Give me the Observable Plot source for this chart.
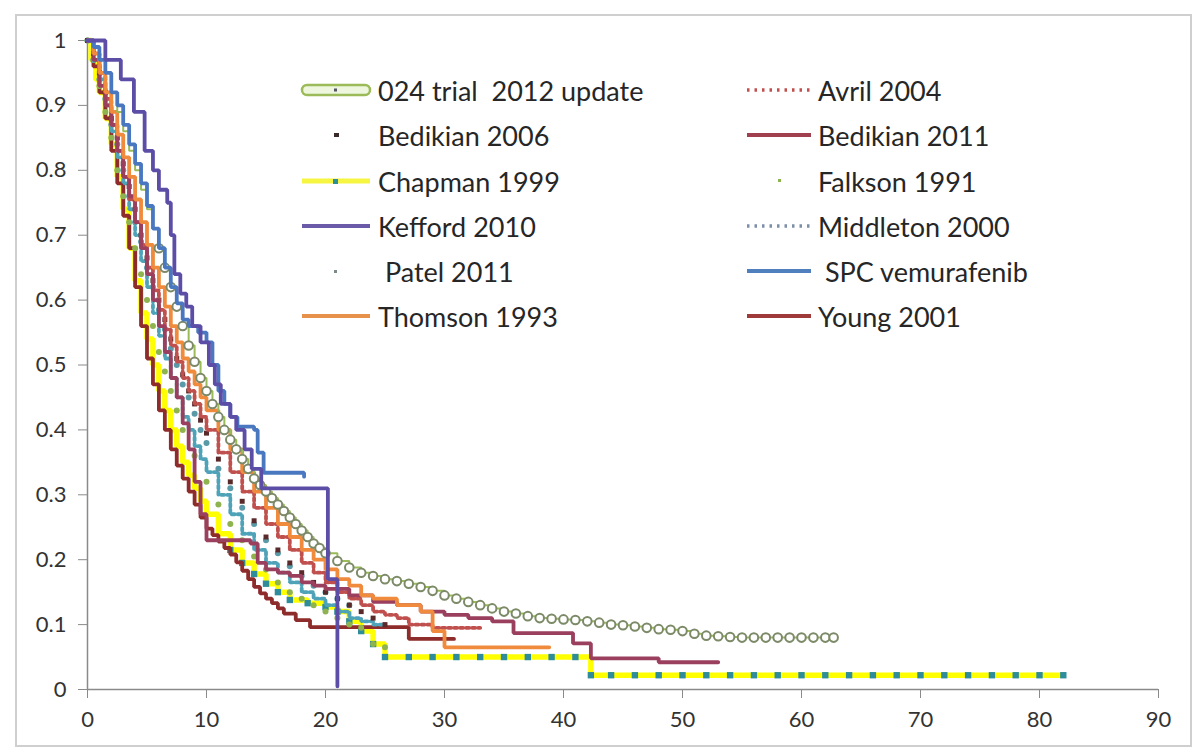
<!DOCTYPE html>
<html>
<head>
<meta charset="utf-8">
<script src="https://cdn.jsdelivr.net/npm/d3@7"></script>
<script src="https://cdn.jsdelivr.net/npm/@observablehq/plot@0.6"></script>
<style>
  html, body { margin: 0; padding: 0; background: #fff; }
  #wrap { position: relative; width: 1201px; height: 753px; overflow: hidden; font-family: Lato, "Open Sans", sans-serif; }
  #wrap > svg { position: absolute; left: 0; top: 0; }
  #frame { position: absolute; left: 15px; top: 14px; width: 1173px; height: 729px; border: 2px solid #cfcfcf; pointer-events: none; }
  .lg { position: absolute; display: flex; align-items: center; height: 34px; font-size: 27px; color: #262626; white-space: pre; }
  .lg svg { display: block; margin-right: 6px; }
</style>
</head>
<body>
<div id="wrap"><div id="frame"></div></div>
<script>
// ---- data (months, proportion surviving) ----
const seriesNames = ["024 trial  2012 update", "Avril 2004", "Bedikian 2006", "Bedikian 2011", "Chapman 1999", "Falkson 1991",
  "Kefford 2010", "Middleton 2000", " Patel 2011", " SPC vemurafenib", "Thomson 1993", "Young 2001"];

const trial024 = [[0,1],[0.5,0.99],[1,0.97],[1.5,0.95],[2,0.92],[2.5,0.89],[3,0.86],[3.5,0.83],[4,0.8],[4.5,0.77],[5,0.74],[5.5,0.71],[6,0.68],[6.5,0.65],[7,0.62],[7.5,0.59],[8,0.56],[8.5,0.53],[9,0.505],[9.5,0.48],[10,0.46],[10.5,0.44],[11,0.42],[11.5,0.4],[12,0.385],[12.5,0.37],[13,0.355],[13.5,0.34],[14,0.325],[14.5,0.315],[15,0.305],[15.5,0.295],[16,0.285],[16.5,0.275],[17,0.265],[17.5,0.255],[18,0.245],[18.5,0.235],[19,0.225],[19.5,0.218],[20,0.21],[21,0.198],[22,0.188],[23,0.18],[24,0.175],[25,0.17],[26,0.167],[27,0.163],[28,0.158],[29,0.152],[30,0.145],[31,0.14],[32,0.135],[33,0.13],[34,0.125],[35,0.12],[36,0.117],[37,0.113],[38,0.11],[39,0.109],[40,0.108],[41,0.107],[42,0.105],[43,0.103],[44,0.1],[45,0.099],[46,0.097],[47,0.095],[48,0.093],[49,0.092],[50,0.09],[51,0.086],[52,0.083],[53,0.082],[54,0.081],[55,0.08],[56,0.08],[57,0.08],[58,0.08],[59,0.08],[60,0.08],[61,0.08],[62,0.08],[62.7,0.08]];
const avril2004 = [[0,1],[0.5,0.98],[1,0.95],[1.5,0.91],[2,0.87],[2.5,0.83],[3,0.79],[3.5,0.755],[4,0.72],[4.5,0.685],[5,0.65],[5.5,0.615],[6,0.585],[6.5,0.555],[7,0.53],[7.5,0.505],[8,0.48],[8.5,0.46],[9,0.44],[9.5,0.42],[10,0.4],[11,0.365],[12,0.335],[13,0.305],[14,0.28],[15,0.255],[16,0.235],[17,0.215],[18,0.195],[19,0.18],[20,0.165],[21,0.15],[22,0.14],[23,0.13],[24,0.12],[25,0.115],[26,0.11],[27,0.1],[29,0.095],[33,0.095]];
const bedikian2006 = [[0,1],[0.5,0.98],[1,0.95],[1.5,0.92],[2,0.88],[2.5,0.85],[3,0.81],[3.5,0.775],[4,0.74],[4.5,0.7],[5,0.665],[5.5,0.63],[6,0.6],[6.5,0.57],[7,0.54],[7.5,0.51],[8,0.485],[8.5,0.46],[9,0.44],[9.5,0.415],[10,0.395],[11,0.355],[12,0.32],[13,0.29],[14,0.26],[15,0.235],[16,0.215],[17,0.195],[18,0.18],[19,0.165],[20,0.15],[21,0.14],[22,0.13],[23,0.12],[24,0.11],[25,0.1]];
const bedikian2011 = [[0,1],[0.5,0.97],[1,0.93],[1.5,0.9],[2,0.87],[2.5,0.83],[3,0.79],[3.5,0.76],[4,0.72],[4.5,0.68],[5,0.64],[5.5,0.6],[6,0.56],[6.5,0.52],[7,0.48],[7.5,0.45],[8,0.41],[8.5,0.37],[9,0.32],[9.5,0.27],[10,0.23],[13.7,0.225],[14.3,0.195],[15,0.185],[16,0.18],[17,0.175],[18,0.165],[19,0.16],[20,0.155],[22,0.145],[24,0.135],[26,0.13],[28,0.12],[30,0.115],[32,0.11],[34,0.105],[35.8,0.087],[40.8,0.071],[42.3,0.048],[48,0.042],[53,0.042]];
const chapman1999 = [[0,1],[0.3,0.97],[0.7,0.94],[1,0.92],[1.5,0.88],[2,0.84],[2.5,0.79],[3,0.74],[3.5,0.68],[4,0.63],[4.5,0.58],[5,0.54],[5.5,0.5],[6,0.46],[6.5,0.43],[7,0.4],[7.5,0.375],[8,0.35],[8.5,0.33],[9,0.31],[9.5,0.29],[10,0.27],[11,0.24],[12,0.215],[13,0.195],[14,0.178],[15,0.163],[16,0.15],[17,0.138],[18.5,0.133],[20,0.127],[21,0.12],[22,0.105],[23,0.09],[24,0.07],[25,0.05],[27,0.05],[29,0.05],[31,0.05],[33,0.05],[35,0.05],[37,0.05],[39,0.05],[41,0.05],[42.3,0.022],[44,0.022],[46,0.022],[48,0.022],[50,0.022],[52,0.022],[54,0.022],[56,0.022],[58,0.022],[60,0.022],[62,0.022],[64,0.022],[66,0.022],[68,0.022],[70,0.022],[72,0.022],[74,0.022],[76,0.022],[78,0.022],[80,0.022],[82,0.022]];
const falkson1991 = [[0,1],[0.5,0.97],[1,0.93],[1.5,0.89],[2,0.85],[2.5,0.8],[3,0.76],[3.5,0.72],[4,0.68],[4.5,0.64],[5,0.6],[5.5,0.56],[6,0.52],[6.5,0.49],[7,0.46],[7.5,0.43],[8,0.4],[9,0.36],[10,0.32],[11,0.285],[12,0.255],[13,0.23],[14,0.205],[15,0.185],[16,0.165],[17,0.15],[18,0.14],[19,0.13],[20,0.12],[21,0.11],[22,0.1],[23,0.095],[24,0.07],[25,0.065]];
const kefford2010 = [[0,1],[1.5,0.97],[2.8,0.94],[3.9,0.89],[4.8,0.83],[5.5,0.8],[6,0.77],[6.7,0.75],[7,0.7],[7.3,0.64],[7.8,0.61],[8.3,0.59],[8.8,0.56],[9.5,0.535],[10.2,0.5],[10.7,0.47],[11.2,0.44],[12,0.42],[12.5,0.4],[13.2,0.37],[13.8,0.34],[14.6,0.31],[20.2,0.17],[21,0.005]];
const middleton2000 = [[0,1],[0.5,0.97],[1,0.94],[1.5,0.9],[2,0.86],[2.5,0.82],[3,0.78],[3.5,0.74],[4,0.7],[4.5,0.66],[5,0.62],[5.5,0.58],[6,0.545],[6.5,0.51],[7,0.48],[7.5,0.45],[8,0.42],[8.5,0.4],[9,0.375],[9.5,0.355],[10,0.335],[11,0.3],[12,0.27],[13,0.24],[14,0.215],[15,0.195],[16,0.18],[17,0.165],[18,0.15],[19,0.14],[20,0.13],[21,0.12],[22,0.11],[23,0.105],[24,0.1],[25,0.1]];
const patel2011 = [[0,1],[0.5,0.97],[1,0.94],[1.5,0.91],[2,0.87],[2.5,0.84],[3,0.8],[3.5,0.76],[4,0.72],[4.5,0.69],[5,0.65],[5.5,0.62],[6,0.585],[6.5,0.555],[7,0.525],[7.5,0.5],[8,0.47],[8.5,0.45],[9,0.425],[9.5,0.4],[10,0.38],[11,0.34],[12,0.31],[13,0.28],[14,0.255],[15,0.23],[16,0.21],[17,0.19],[18,0.175],[19,0.16],[20,0.15],[21,0.14],[22,0.13]];
const spcVemurafenib = [[0,1],[0.5,0.99],[1,0.97],[1.5,0.95],[2,0.92],[2.5,0.9],[3,0.87],[3.5,0.84],[4,0.81],[4.5,0.78],[5,0.745],[5.5,0.71],[6,0.68],[6.5,0.65],[7,0.62],[7.5,0.595],[8,0.57],[8.5,0.56],[9.3,0.55],[10,0.535],[10.5,0.5],[11,0.46],[11.5,0.44],[12,0.42],[12.6,0.405],[14,0.4],[14.3,0.365],[14.8,0.334],[18.2,0.328]];
const thomson1993 = [[0,1],[0.5,0.98],[1,0.95],[1.5,0.92],[2,0.89],[2.5,0.855],[3,0.82],[3.5,0.79],[4,0.755],[4.5,0.72],[5,0.685],[5.5,0.65],[6,0.62],[6.5,0.59],[7,0.56],[7.5,0.535],[8,0.51],[8.5,0.49],[9,0.47],[9.5,0.45],[10,0.43],[11,0.4],[12,0.37],[13,0.335],[14,0.305],[15,0.28],[16,0.255],[17,0.235],[18,0.215],[19,0.2],[20,0.185],[21,0.17],[22,0.16],[23,0.145],[24,0.14],[26,0.13],[28,0.12],[29,0.09],[30,0.065],[38.8,0.065]];
const young2001 = [[0,1],[0.5,0.96],[1,0.92],[1.5,0.88],[2,0.83],[2.5,0.78],[3,0.73],[3.5,0.68],[4,0.62],[4.5,0.56],[5,0.51],[5.5,0.47],[6,0.43],[6.5,0.4],[7,0.37],[7.5,0.345],[8,0.325],[8.5,0.305],[9,0.285],[9.5,0.265],[10,0.248],[10.5,0.238],[11,0.228],[11.5,0.218],[12,0.208],[12.5,0.196],[13,0.183],[13.5,0.17],[14,0.158],[14.5,0.148],[15,0.14],[15.5,0.133],[16,0.125],[16.5,0.117],[17.5,0.107],[18.7,0.096],[27,0.078],[30.8,0.078]];

const xTicks = [0, 10, 20, 30, 40, 50, 60, 70, 80, 90];
const yTicks = [0, 0.1, 0.2, 0.3, 0.4, 0.5, 0.6, 0.7, 0.8, 0.9, 1];

// ---- build ----
const rows = (pts) => pts.map(([t, s]) => ({t, s}));
const step = (pts, o) => Plot.line(rows(pts), {x: "t", y: "s", curve: "step-after", strokeLinejoin: "miter", ...o});
const pts = (p, o) => Plot.dot(rows(p), {x: "t", y: "s", ...o});

const chart = Plot.plot({
  width: 1201, height: 753,
  marginLeft: 87, marginRight: 43, marginTop: 40, marginBottom: 64,
  x: {domain: [0, 90]},
  y: {domain: [0, 1]},
  style: {fontFamily: "Lato, 'Open Sans', sans-serif", fontSize: "22px", background: "transparent"},
  marks: [
    Plot.axisX({ticks: xTicks, tickSize: 9, tickPadding: 13, fontSize: 22, color: "#333333", stroke: "#8a8a8a", label: null}),
    Plot.axisY({ticks: yTicks, tickSize: 9, tickPadding: 12, fontSize: 22, color: "#333333", stroke: "#8a8a8a", label: null,
      tickFormat: d => String(+d.toFixed(1))}),
    Plot.ruleY([0], {stroke: "#8a8a8a", strokeWidth: 1.5}),
    Plot.ruleX([0], {stroke: "#8a8a8a", strokeWidth: 1.5}),
    // chapman: yellow line with teal squares
    step(chapman1999, {stroke: "#ffff00", strokeWidth: 5.5}),
    pts(chapman1999.filter(d => d[0] >= 12), {symbol: "square", r: 3.6, fill: "#2f8d9b"}),
    step(young2001, {stroke: "#8e2b2b", strokeWidth: 3.8}),
    pts(falkson1991, {r: 3, fill: "#8fb34f"}),
    step(middleton2000, {stroke: "#4fa3b8", strokeWidth: 3.8, strokeDasharray: "3,3"}),
    pts(patel2011, {r: 3, fill: "#5a9aa8"}),
    pts(bedikian2006, {symbol: "square", r: 2.8, fill: "#5a2a2a"}),
    step(avril2004, {stroke: "#c0504d", strokeWidth: 3.8, strokeDasharray: "3,3"}),
    step(bedikian2011, {stroke: "#9a3f5e", strokeWidth: 3.8}),
    step(thomson1993, {stroke: "#f08a3c", strokeWidth: 3.8}),
    step(trial024, {stroke: "#9bbb59", strokeWidth: 2}),
    pts(trial024.filter(d => d[0] >= 6), {r: 4.3, fill: "#ffffff", stroke: "#7c8a68", strokeWidth: 2}),
    step(spcVemurafenib, {stroke: "#4a78c0", strokeWidth: 3.8}),
    step(kefford2010, {stroke: "#5c4ea6", strokeWidth: 3.8})
  ]
});
const wrap = document.getElementById("wrap");
wrap.insertBefore(chart, wrap.firstChild);
chart.querySelectorAll("text").forEach(t => { t.setAttribute("font-size", "22"); t.style.fontSize = "22px"; });

// ---- legend (HTML, inside plot area) ----
const swatches = [
  `<rect x="2" y="5" width="68" height="10" rx="5" fill="#eef6de" stroke="#9bbb59" stroke-width="2.5"/><rect x="34" y="8.5" width="3" height="3" fill="#556"/>`,
  `<line x1="2" y1="10" x2="66" y2="10" stroke="#c0504d" stroke-width="3.5" stroke-dasharray="2.5,5"/>`,
  `<rect x="34" y="8" width="5" height="4" fill="#3a2a2a"/>`,
  `<line x1="2" y1="10" x2="66" y2="10" stroke="#a0404e" stroke-width="4"/>`,
  `<line x1="2" y1="10" x2="70" y2="10" stroke="#f5f542" stroke-width="5"/><rect x="33" y="8" width="5" height="5" fill="#2f8d9b"/>`,
  `<rect x="33" y="8" width="3" height="3" fill="#8fb34f"/>`,
  `<line x1="2" y1="10" x2="70" y2="10" stroke="#6a5aa8" stroke-width="4"/>`,
  `<line x1="2" y1="10" x2="66" y2="10" stroke="#7d8fa8" stroke-width="3.5" stroke-dasharray="2.5,5"/>`,
  `<rect x="34" y="9" width="3" height="3" fill="#7a8a8a"/>`,
  `<line x1="2" y1="10" x2="66" y2="10" stroke="#4f7fbd" stroke-width="4"/>`,
  `<line x1="2" y1="10" x2="70" y2="10" stroke="#e8914a" stroke-width="4"/>`,
  `<line x1="2" y1="10" x2="66" y2="10" stroke="#9e3a3a" stroke-width="4"/>`
];
const rowY = [90, 135, 181, 226, 271, 316];
seriesNames.forEach((name, i) => {
  const col = i % 2, row = Math.floor(i / 2);
  const el = document.createElement("div");
  el.className = "lg";
  el.style.left = (col === 0 ? 300 : 745) + "px";
  el.style.top = (rowY[row] - 17) + "px";
  const w = col === 0 ? 72 : 67;
  el.innerHTML = `<svg width="${w}" height="20" viewBox="0 0 ${w} 20">${swatches[i]}</svg><span>${name}</span>`;
  wrap.appendChild(el);
});
</script>
</body>
</html>
